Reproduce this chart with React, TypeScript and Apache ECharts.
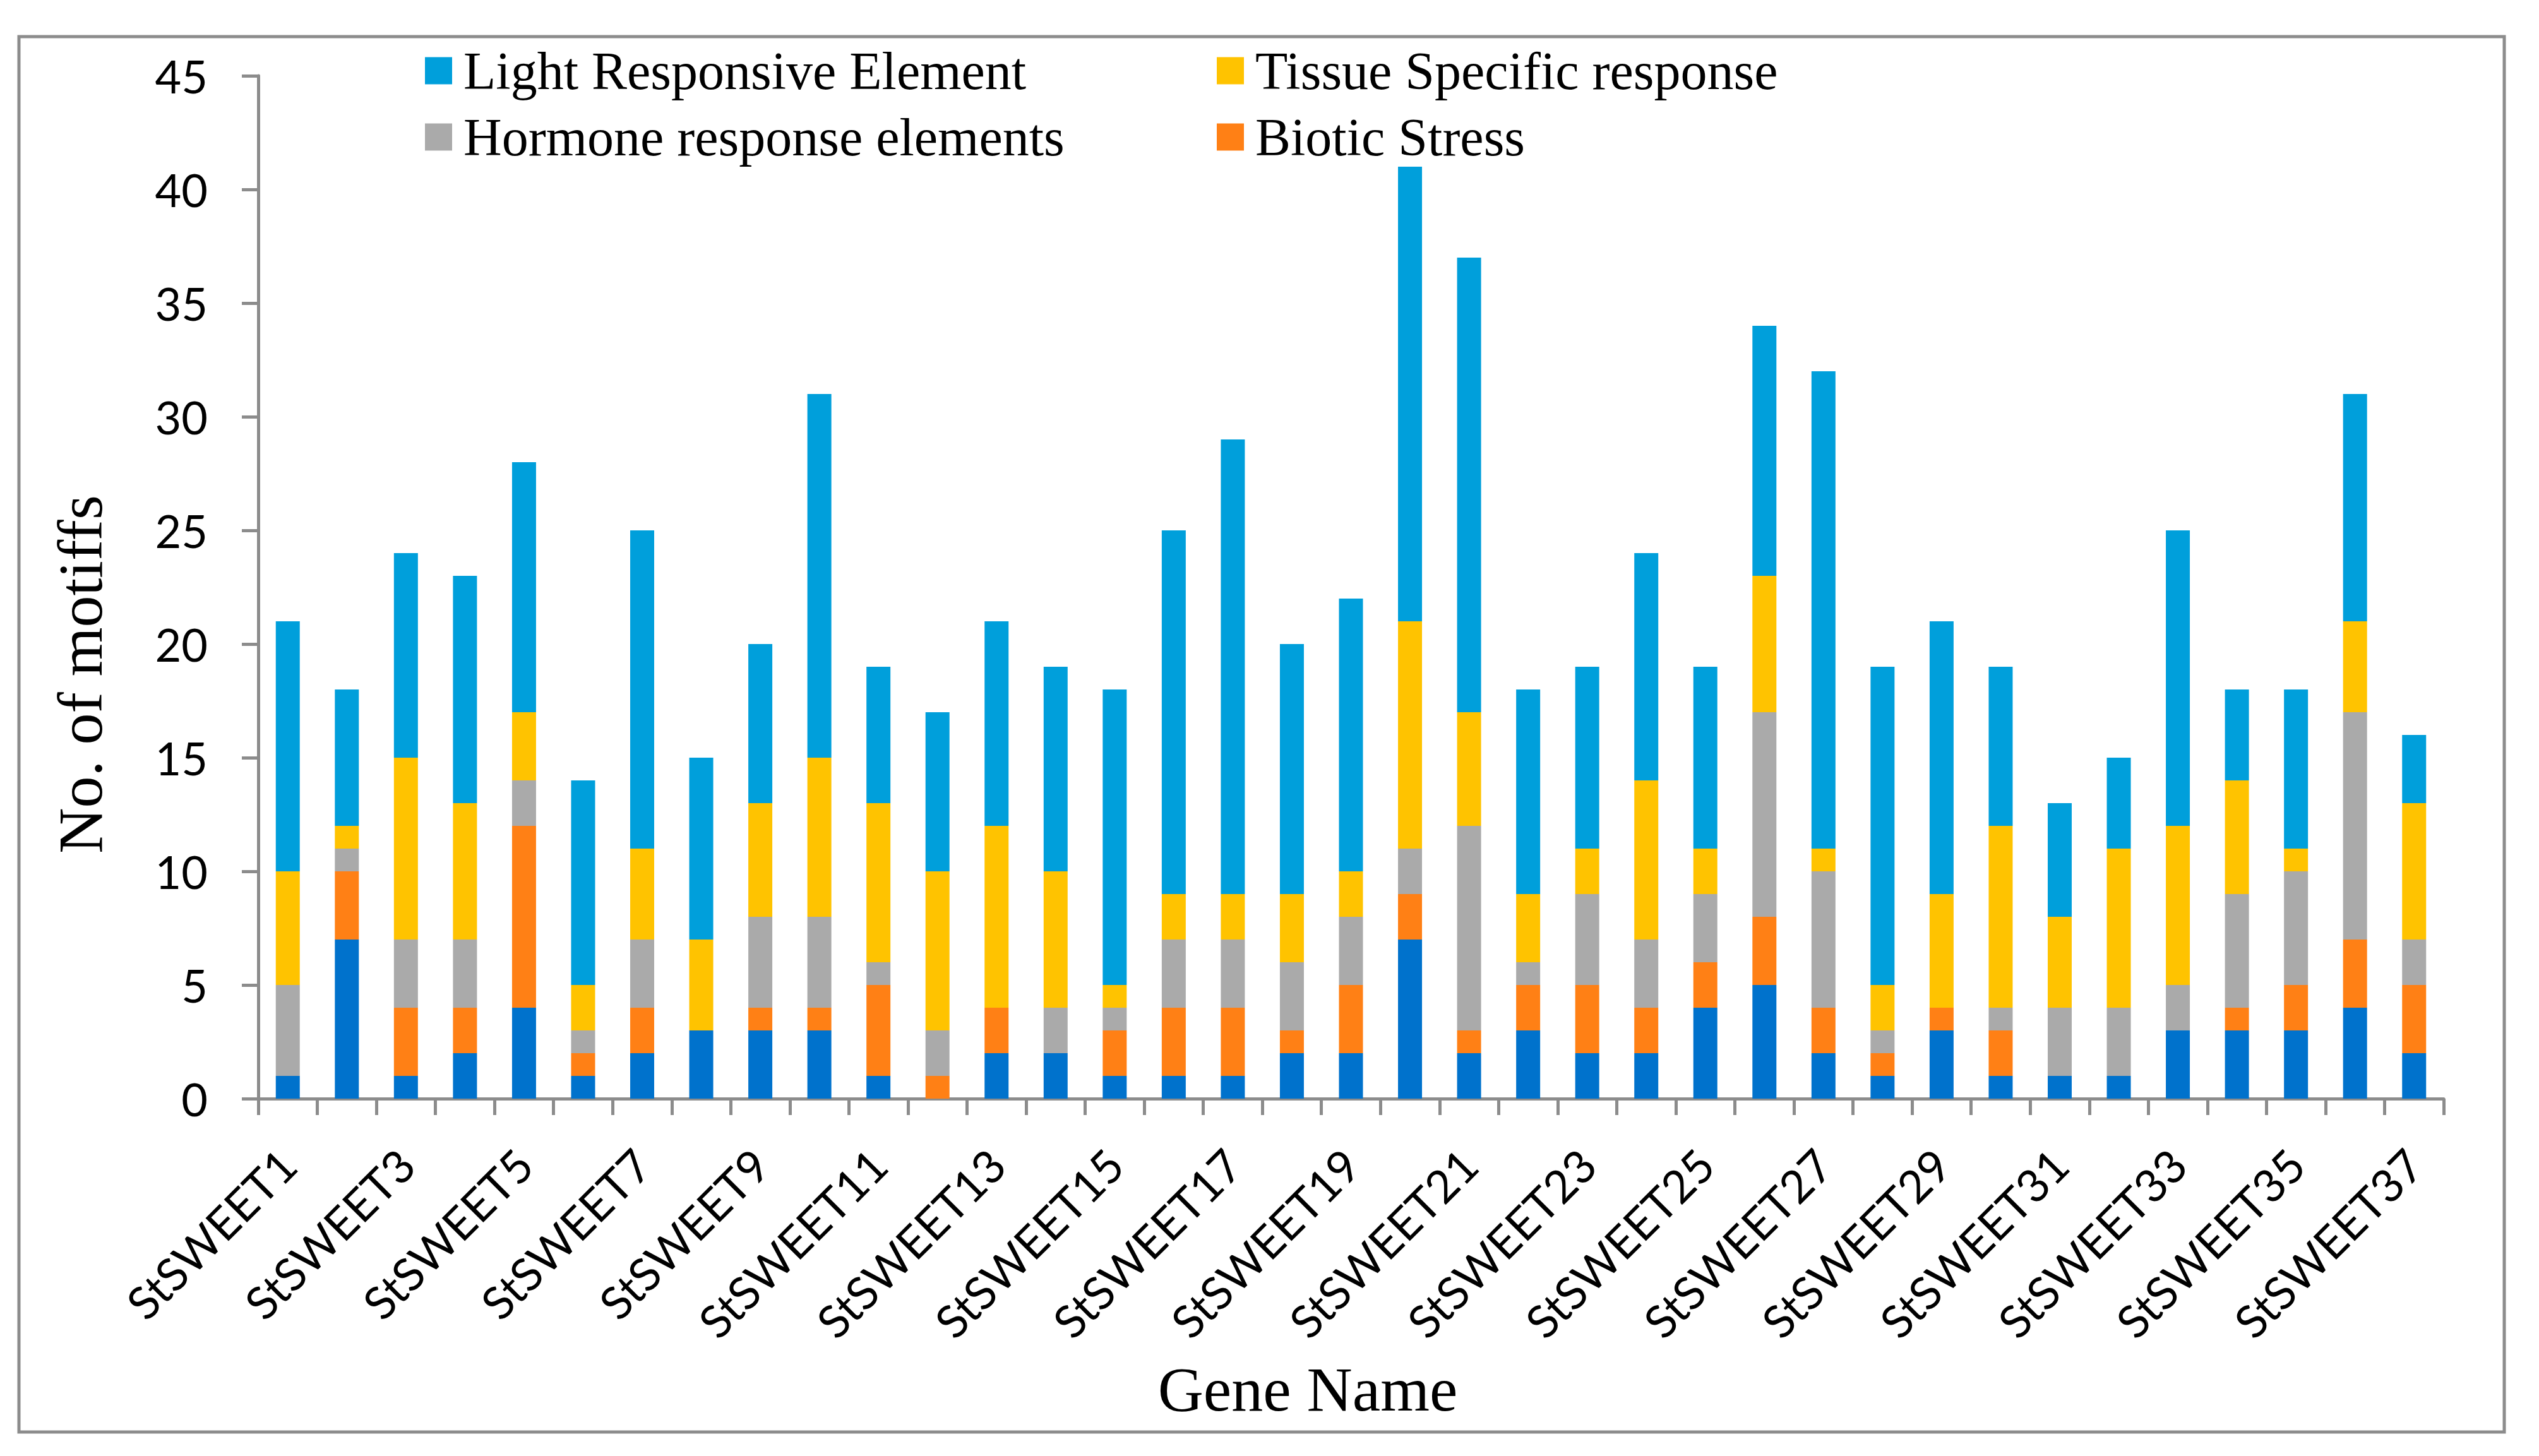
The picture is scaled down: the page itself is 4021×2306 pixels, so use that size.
import React, { useEffect, useRef } from "react";
import * as echarts from "echarts";

const genes = Array.from({ length: 37 }, (_, i) => `StSWEET${i + 1}`);

const seriesNames = [
  "Other elements",
  "Biotic Stress",
  "Hormone response elements",
  "Tissue Specific response",
  "Light Responsive Element",
];

const darkBlue = [1, 7, 1, 2, 4, 1, 2, 3, 3, 3, 1, 0, 2, 2, 1, 1, 1, 2, 2, 7, 2, 3, 2, 2, 4, 5, 2, 1, 3, 1, 1, 1, 3, 3, 3, 4, 2];
const biotic = [0, 3, 3, 2, 8, 1, 2, 0, 1, 1, 4, 1, 2, 0, 2, 3, 3, 1, 3, 2, 1, 2, 3, 2, 2, 3, 2, 1, 1, 2, 0, 0, 0, 1, 2, 3, 3];
const hormone = [4, 1, 3, 3, 2, 1, 3, 0, 4, 4, 1, 2, 0, 2, 1, 3, 3, 3, 3, 2, 9, 1, 4, 3, 3, 9, 6, 1, 0, 1, 3, 3, 2, 5, 5, 10, 2];
const tissue = [5, 1, 8, 6, 3, 2, 4, 4, 5, 7, 7, 7, 8, 6, 1, 2, 2, 3, 2, 10, 5, 3, 2, 7, 2, 6, 1, 2, 5, 8, 4, 7, 7, 5, 1, 4, 6];
const light = [11, 6, 9, 10, 11, 9, 14, 8, 7, 16, 6, 7, 9, 9, 13, 16, 20, 11, 12, 20, 20, 9, 8, 10, 8, 11, 21, 14, 12, 7, 5, 4, 13, 4, 7, 10, 3];

const colors = ["#0072CC", "#FF8015", "#AAAAAA", "#FFC300", "#009FDB"];
const yTicks = { min: 0, max: 45, interval: 5 };

const AXIS_GRAY = "#8C8C8C";

export default function App() {
  const ref = useRef<HTMLDivElement>(null);

  useEffect(() => {
    if (!ref.current) return;
    const chart = echarts.init(ref.current, undefined, { renderer: "svg" });
    const values = [darkBlue, biotic, hormone, tissue, light];

    const legendText = {
      fontFamily: "Liberation Serif",
      fontSize: 84,
      lineHeight: 84,
      color: "#000",
      padding: [0, 0, 0, 13],
    };

    chart.setOption({
      animation: false,
      backgroundColor: "#ffffff",
      grid: { left: 409, right: 151, top: 120, bottom: 566, containLabel: false },
      legend: [
        {
          data: [seriesNames[4], seriesNames[2]],
          orient: "vertical",
          left: 673,
          top: 70,
          padding: 0,
          itemGap: 21,
          itemWidth: 43,
          itemHeight: 43,
          icon: "rect",
          textStyle: legendText,
        },
        {
          data: [seriesNames[3], seriesNames[1]],
          orient: "vertical",
          left: 1927,
          top: 70,
          padding: 0,
          itemGap: 21,
          itemWidth: 43,
          itemHeight: 43,
          icon: "rect",
          textStyle: legendText,
        },
      ],
      xAxis: {
        type: "category",
        data: genes,
        boundaryGap: true,
        axisLine: { show: true, lineStyle: { color: AXIS_GRAY, width: 5 } },
        axisTick: { show: true, interval: 0, length: 26, lineStyle: { color: AXIS_GRAY, width: 5 } },
        axisLabel: {
          interval: 1,
          rotate: 45,
          margin: 92,
          fontFamily: "Lato",
          fontSize: 72,
          color: "#000",
        },
      },
      yAxis: {
        type: "value",
        min: yTicks.min,
        max: yTicks.max,
        interval: yTicks.interval,
        axisLine: { show: true, lineStyle: { color: AXIS_GRAY, width: 5 } },
        axisTick: { show: true, length: 26, lineStyle: { color: AXIS_GRAY, width: 5 } },
        splitLine: { show: false },
        axisLabel: { margin: 80, fontFamily: "Lato", fontSize: 72, color: "#000" },
      },
      series: seriesNames.map((name, i) => ({
        name,
        type: "bar",
        stack: "total",
        barWidth: 38,
        data: values[i],
        itemStyle: { color: colors[i] },
      })),
      graphic: [
        {
          type: "rect",
          shape: { x: 30, y: 58, width: 3936, height: 2210 },
          style: { fill: "none", stroke: AXIS_GRAY, lineWidth: 5 },
          silent: true,
        },
        {
          type: "text",
          x: 127,
          y: 1068,
          rotation: Math.PI / 2,
          style: {
            text: "No. of motiffs",
            fontFamily: "Liberation Serif",
            fontSize: 100,
            fill: "#000",
            align: "center",
            verticalAlign: "middle",
          },
        },
        {
          type: "text",
          x: 2071,
          y: 2200,
          style: {
            text: "Gene Name",
            fontFamily: "Liberation Serif",
            fontSize: 100,
            fill: "#000",
            align: "center",
            verticalAlign: "middle",
          },
        },
      ],
    });
    return () => chart.dispose();
  }, []);

  return (
    <div
      ref={ref}
      style={{ position: "fixed", left: 0, top: 0, width: 4021, height: 2306 }}
    />
  );
}
